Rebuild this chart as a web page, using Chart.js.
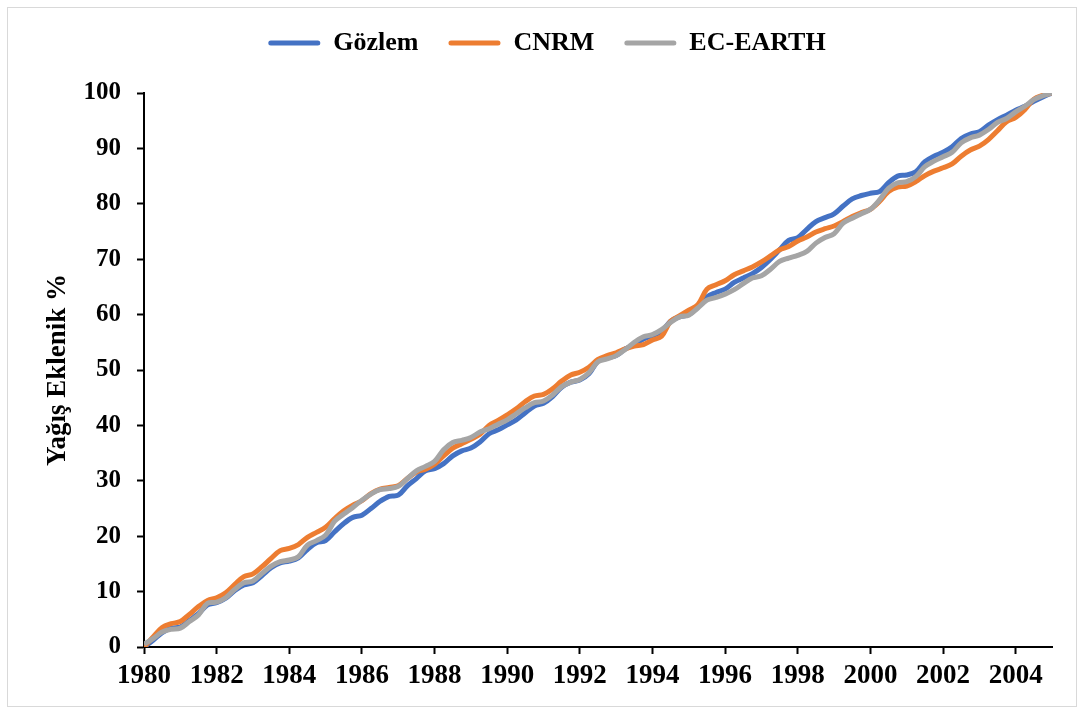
<!DOCTYPE html>
<html>
<head>
<meta charset="utf-8">
<script src="https://cdn.jsdelivr.net/npm/chart.js@4/dist/chart.umd.min.js"></script>
<style>
  html, body { margin: 0; padding: 0; background: #ffffff; }
  #wrap { width: 1082px; height: 709px; position: relative; }
</style>
</head>
<body>
<div id="wrap"><canvas id="c" width="1082" height="709"></canvas></div>
<script>
// Quarterly cumulative precipitation (%) from 1980.00 to 2005.00
const startYear = 1980;
const stepYears = 0.25;
const seriesNames = ["Gözlem", "CNRM", "EC-EARTH"];
const xTickLabels = ["1980","1982","1984","1986","1988","1990","1992","1994","1996","1998","2000","2002","2004"];
const yTickLabels = ["0","10","20","30","40","50","60","70","80","90","100"];

const gozlem = [
  0, 1.2, 2.6, 3.4, 3.6, 4.8, 6.0, 7.6, 8.0, 8.8, 10.2, 11.2, 11.6, 12.9, 14.3, 15.2,
  15.5, 16.1, 17.6, 18.8, 19.2, 20.8, 22.3, 23.4, 23.8, 25.0, 26.3, 27.2, 27.4, 29.1, 30.4, 31.8,
  32.2, 33.1, 34.5, 35.4, 35.9, 37.0, 38.5, 39.2, 40.1, 41.0, 42.3, 43.5, 44.0, 45.2, 46.9, 47.8,
  48.2, 49.3, 51.6, 52.2, 52.6, 53.8, 54.6, 55.6, 56.2, 57.0, 58.8, 59.6, 60.0, 61.4, 63.2, 64.0,
  64.6, 65.8, 66.6, 67.4, 68.5, 70.0, 71.7, 73.4, 73.9, 75.4, 76.8, 77.5, 78.2, 79.6, 80.9, 81.5,
  81.9, 82.2, 83.8, 85.0, 85.2, 85.8, 87.6, 88.6, 89.3, 90.3, 91.8, 92.6, 93.0, 94.2, 95.2, 96.0,
  96.9, 97.6, 98.5, 99.3, 100
];
const cnrm = [
  0, 1.8, 3.5, 4.2, 4.6, 5.9, 7.3, 8.4, 8.9, 9.8, 11.3, 12.7, 13.2, 14.5, 16.0, 17.4,
  17.8, 18.5, 19.8, 20.7, 21.6, 23.2, 24.6, 25.6, 26.4, 27.7, 28.5, 28.8, 29.1, 30.4, 31.6, 32.1,
  33.0, 34.5, 35.9, 36.7, 37.5, 38.4, 40.0, 40.9, 41.9, 43.0, 44.3, 45.3, 45.6, 46.6, 48.0, 49.1,
  49.6, 50.5, 51.9, 52.6, 53.1, 53.8, 54.3, 54.6, 55.4, 56.1, 58.8, 59.8, 60.8, 61.8, 64.6, 65.4,
  66.1, 67.2, 67.9, 68.6, 69.5, 70.6, 71.7, 72.3, 73.3, 74.0, 74.9, 75.5, 76.0, 76.8, 77.7, 78.4,
  79.0, 80.4, 82.2, 83.0, 83.2, 84.0, 85.1, 85.9, 86.5, 87.2, 88.6, 89.7, 90.4, 91.6, 93.2, 94.8,
  95.6, 97.0, 98.9, 99.6, 100
];
const ecEarth = [
  0.5, 1.5, 2.7, 3.2, 3.4, 4.6, 5.8, 7.9, 8.1, 8.9, 10.4, 11.6, 11.9, 13.3, 14.6, 15.4,
  15.7, 16.3, 18.4, 19.2, 20.2, 22.7, 24.0, 25.2, 26.5, 27.6, 28.4, 28.6, 29.0, 30.4, 31.8, 32.6,
  33.5, 35.6, 36.9, 37.3, 37.8, 38.8, 39.4, 40.2, 41.0, 42.1, 43.2, 44.1, 44.4, 45.5, 47.0, 47.8,
  48.3, 49.5, 51.5, 52.0, 52.6, 53.7, 55.0, 56.0, 56.4, 57.3, 58.6, 59.6, 59.9, 61.2, 62.6, 63.1,
  63.7, 64.5, 65.6, 66.6, 67.0, 68.2, 69.6, 70.2, 70.7, 71.4, 72.9, 73.9, 74.6, 76.5, 77.4, 78.2,
  79.0, 80.7, 82.8, 83.8, 84.0, 84.9, 86.7, 87.7, 88.5, 89.3, 91.0, 91.9, 92.4, 93.4, 94.7, 95.4,
  96.6, 97.6, 98.8, 99.5, 100
];

const colors = ["#4472C4", "#ED7D31", "#A5A5A5"];
const toPoints = arr => arr.map((v, i) => ({ x: startYear + i * stepYears, y: v }));

const FONT = "'Liberation Serif', 'Times New Roman', serif";

const framePlugin = {
  id: 'frame',
  beforeDraw(chart) {
    const ctx = chart.ctx;
    ctx.save();
    ctx.fillStyle = '#ffffff';
    ctx.fillRect(0, 0, chart.width, chart.height);
    ctx.strokeStyle = '#d9d9d9';
    ctx.lineWidth = 1;
    ctx.strokeRect(7.5, 7.5, 1069, 699);
    ctx.restore();
  }
};

const legendHeightPlugin = {
  id: 'legendHeight',
  beforeInit(chart) {
    const lg = chart.legend;
    if (!lg) return;
    const orig = lg.fit;
    lg.fit = function () {
      orig.call(this);
      this.height = 93;
    };
  }
};

const datasets = [gozlem, cnrm, ecEarth].map((arr, i) => ({
  label: seriesNames[i],
  data: toPoints(arr),
  borderColor: colors[i],
  backgroundColor: colors[i],
  borderWidth: 5,
  pointRadius: 0,
  tension: 0.35,
  fill: false,
  order: 3 - i
}));

new Chart(document.getElementById('c'), {
  type: 'line',
  data: { datasets },
  plugins: [framePlugin, legendHeightPlugin],
  options: {
    responsive: false,
    animation: false,
    layout: { padding: { left: 42, right: 30, top: 0, bottom: 10 } },
    plugins: {
      tooltip: { enabled: false },
      legend: {
        display: true,
        position: 'top',
        reverse: true,
        labels: {
          color: '#000',
          font: { family: FONT, size: 26, weight: 'bold' },
          boxWidth: 52,
          boxHeight: 5,
          padding: 30,
          useBorderRadius: true,
          borderRadius: 2.5,
          generateLabels: (chart) => Chart.defaults.plugins.legend.labels.generateLabels(chart)
            .map(l => Object.assign(l, { lineWidth: 0, fillStyle: l.strokeStyle }))
        }
      }
    },
    scales: {
      x: {
        type: 'linear',
        min: 1980,
        max: 2005,
        afterFit: (s) => { s.height = 52; },
        border: { display: true, color: '#000', width: 2 },
        grid: { display: true, drawOnChartArea: false, drawTicks: true, tickLength: 7, tickColor: '#000', tickWidth: 2 },
        ticks: {
          stepSize: 2,
          includeBounds: false,
          autoSkip: false,
          maxRotation: 0,
          padding: 6,
          color: '#000',
          font: { family: FONT, size: 27, weight: 'bold' },
          callback: (v) => { const s = String(v); return xTickLabels.includes(s) ? s : ''; }
        }
      },
      y: {
        min: 0,
        max: 100,
        afterFit: (s) => { s.width = 102; },
        border: { display: true, color: '#000', width: 2 },
        grid: { display: true, drawOnChartArea: false, drawTicks: true, tickLength: 7, tickColor: '#000', tickWidth: 2 },
        title: {
          display: true,
          text: 'Yağış Eklenik %',
          color: '#000',
          font: { family: FONT, size: 27, weight: 'bold' },
          padding: { top: 0, bottom: 4 }
        },
        ticks: {
          stepSize: 10,
          padding: 16,
          color: '#000',
          font: { family: FONT, size: 25, weight: 'bold' },
          callback: (v) => { const s = String(v); return yTickLabels.includes(s) ? s : ''; }
        }
      }
    }
  }
});
</script>
</body>
</html>
